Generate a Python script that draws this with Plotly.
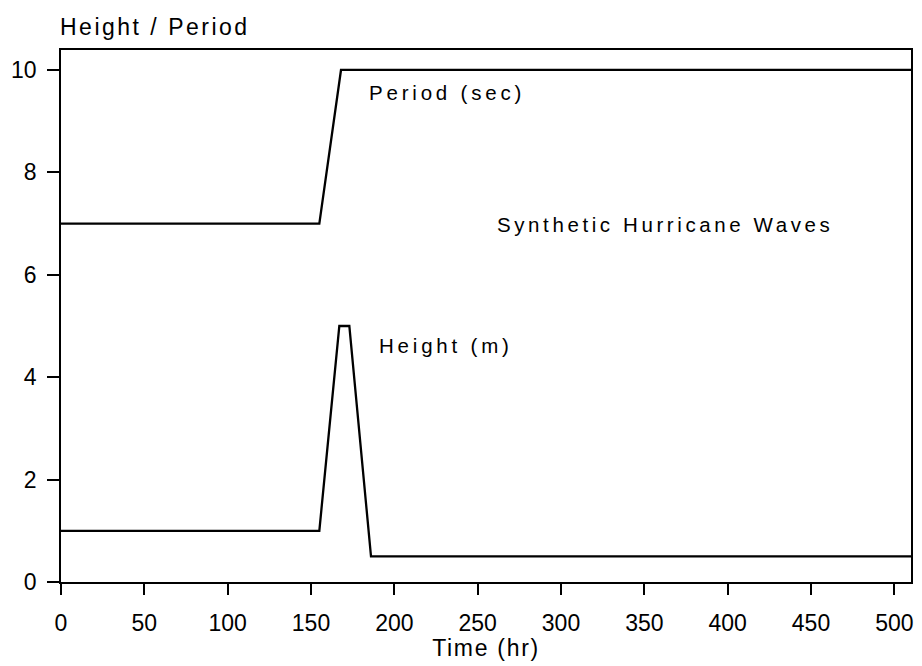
import plotly.graph_objects as go

# Data
time_period = [0, 155, 168, 510]
period_sec = [7, 7, 10, 10]
time_height = [0, 155, 167, 173, 186, 510]
height_m = [1, 1, 5, 5, 0.5, 0.5]
x_ticks = [0, 50, 100, 150, 200, 250, 300, 350, 400, 450, 500]
y_ticks = [0, 2, 4, 6, 8, 10]

FONT = "Liberation Sans"


def spaced(txt, px):
    return f'<span style="letter-spacing:{px}px">{txt}</span>'


fig = go.Figure()
fig.add_trace(go.Scatter(x=time_period, y=period_sec, mode="lines",
                         line=dict(color="black", width=2.3), showlegend=False))
fig.add_trace(go.Scatter(x=time_height, y=height_m, mode="lines",
                         line=dict(color="black", width=2.3), showlegend=False))

fig.update_layout(
    width=914, height=658,
    margin=dict(l=53, r=11, t=42, b=84),
    plot_bgcolor="white", paper_bgcolor="white",
    font=dict(family=FONT, size=23, color="black"),
    xaxis=dict(range=[0, 510], tickvals=x_ticks, ticks="outside", ticklen=11,
               tickwidth=2, tickcolor="black", showgrid=False, zeroline=False,
               showline=True, linecolor="black", linewidth=1.8, mirror=True,
               ticklabelstandoff=8, automargin=False,
               title=dict(text=spaced("Time (hr)", 1.7), standoff=2,
                          font=dict(size=23))),
    yaxis=dict(range=[0, 10.39], tickvals=y_ticks, ticks="outside", ticklen=12,
               tickwidth=2, tickcolor="black", showgrid=False, zeroline=False,
               showline=True, linecolor="black", linewidth=1.8, mirror=True,
               ticklabelstandoff=6, automargin=False),
    annotations=[
        dict(text=spaced("Height / Period", 2.5), x=0, y=1.044, xref="paper",
             yref="paper", xanchor="left", yanchor="middle", xshift=-3,
             showarrow=False, font=dict(size=23)),
        dict(text=spaced("Period (sec)", 3.8), x=183.7, y=9.56, xanchor="left",
             yanchor="middle", showarrow=False, font=dict(size=20.5)),
        dict(text=spaced("Synthetic Hurricane Waves", 3.6), x=260.5, y=6.99,
             xanchor="left", yanchor="middle", showarrow=False, font=dict(size=20.5)),
        dict(text=spaced("Height (m)", 3.8), x=189.7, y=4.61, xanchor="left",
             yanchor="middle", showarrow=False, font=dict(size=20.5)),
    ],
)
fig.write_html("out.html")
